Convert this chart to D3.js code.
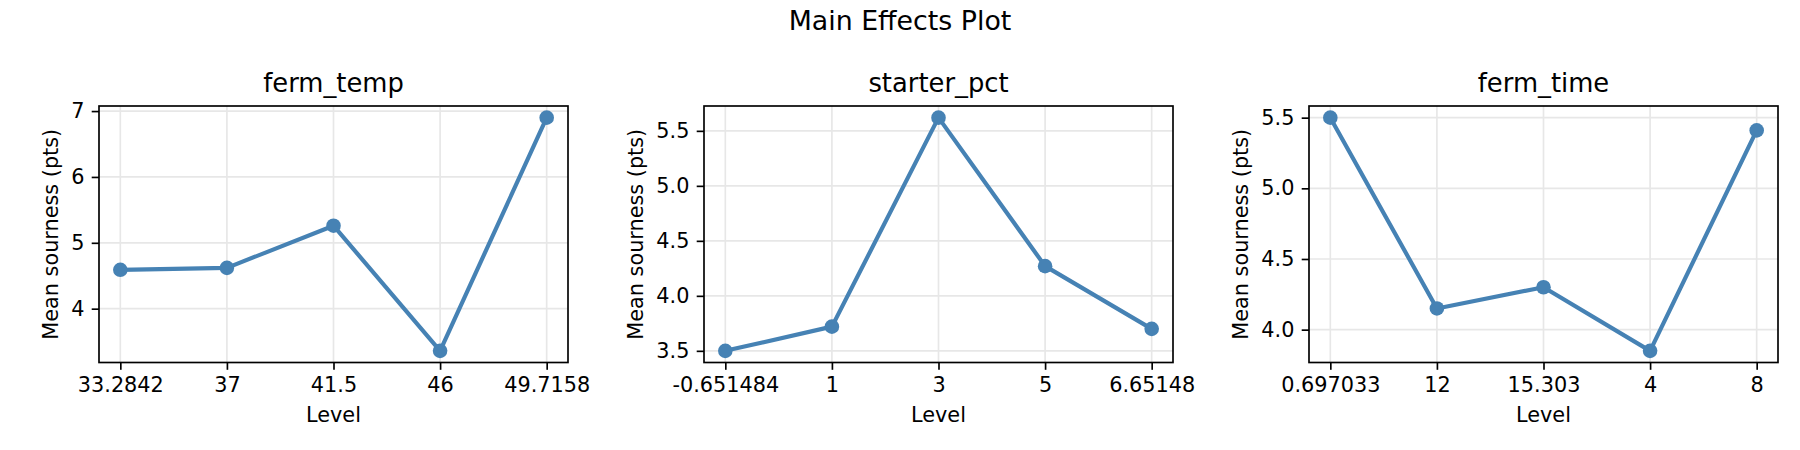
<!DOCTYPE html>
<html>
<head>
<meta charset="utf-8">
<script src="https://cdn.jsdelivr.net/npm/d3@7"></script>
<style>
  body { margin: 0; background: #fff; }
  text { font-family: "DejaVu Sans", sans-serif; fill: #000; }
</style>
</head>
<body>
<div id="chart"></div>
<script>
// donnees
const factors = ["ferm_temp", "starter_pct", "ferm_time"];

const fermTempLevels = ["33.2842", "37", "41.5", "46", "49.7158"];
const fermTempMeans = [4.59, 4.62, 5.26, 3.36, 6.90];

const starterLevels = ["-0.651484", "1", "3", "5", "6.65148"];
const starterMeans = [3.50, 3.72, 5.62, 4.27, 3.70];

const fermTimeLevels = ["0.697033", "12", "15.303", "4", "8"];
const fermTimeMeans = [5.50, 4.15, 4.30, 3.85, 5.41];

const fermTempTicks = [4, 5, 6, 7];
const starterTicks = [3.5, 4.0, 4.5, 5.0, 5.5];
const fermTimeTicks = [4.0, 4.5, 5.0, 5.5];

const panels = [
  { name: factors[0], levels: fermTempLevels, means: fermTempMeans, ticks: fermTempTicks, fmt: d3.format("d") },
  { name: factors[1], levels: starterLevels, means: starterMeans, ticks: starterTicks, fmt: d3.format(".1f") },
  { name: factors[2], levels: fermTimeLevels, means: fermTimeMeans, ticks: fermTimeTicks, fmt: d3.format(".1f") }
];

// mise en page (dpi 150)
const W = 1800, H = 450;
const panelLeft = [99, 704, 1309];
const panelW = 469;
const axTop = 106, axBottom = 362.5;
const fs = 20.8;
const tickLen = 7.3, tickPad = 7.3;
const color = "#4682b4";
const gridColor = "#e7e7e7";

const svg = d3.select("#chart").append("svg")
  .attr("width", W).attr("height", H)
  .attr("viewBox", `0 0 ${W} ${H}`);

svg.append("rect").attr("width", W).attr("height", H).attr("fill", "#fff");

// titre general
svg.append("text")
  .attr("x", W / 2).attr("y", 30)
  .attr("text-anchor", "middle")
  .style("font-size", "26.8px")
  .text("Main Effects Plot");

panels.forEach((p, k) => {
  const left = panelLeft[k];
  const right = left + panelW;
  const n = p.levels.length;

  const x = d3.scaleLinear()
    .domain([-0.05 * (n - 1), (n - 1) * 1.05])
    .range([left, right]);

  const lo = d3.min(p.means), hi = d3.max(p.means);
  const m = (hi - lo) * 0.05;
  const y = d3.scaleLinear()
    .domain([lo - m, hi + m])
    .range([axBottom, axTop]);

  const g = svg.append("g");

  // grille
  g.append("g").selectAll("line").data(d3.range(n)).enter().append("line")
    .attr("x1", d => x(d)).attr("x2", d => x(d))
    .attr("y1", axTop).attr("y2", axBottom)
    .attr("stroke", gridColor).attr("stroke-width", 1.67);
  g.append("g").selectAll("line").data(p.ticks).enter().append("line")
    .attr("x1", left).attr("x2", right)
    .attr("y1", d => y(d)).attr("y2", d => y(d))
    .attr("stroke", gridColor).attr("stroke-width", 1.67);

  // ligne + points
  const pts = p.means.map((v, i) => [i, v]);
  g.append("path")
    .datum(pts)
    .attr("fill", "none")
    .attr("stroke", color)
    .attr("stroke-width", 4.17)
    .attr("stroke-linejoin", "round")
    .attr("d", d3.line().x(d => x(d[0])).y(d => y(d[1])));
  g.selectAll("circle").data(pts).enter().append("circle")
    .attr("cx", d => x(d[0])).attr("cy", d => y(d[1]))
    .attr("r", 7.3)
    .attr("fill", color);

  // axes
  const xAxis = g.append("g")
    .attr("transform", `translate(0,${axBottom})`)
    .call(d3.axisBottom(x).tickValues(d3.range(n))
      .tickFormat(i => p.levels[i])
      .tickSize(tickLen).tickPadding(tickPad));
  const yAxis = g.append("g")
    .attr("transform", `translate(${left},0)`)
    .call(d3.axisLeft(y).tickValues(p.ticks)
      .tickFormat(p.fmt)
      .tickSize(tickLen).tickPadding(tickPad));

  [xAxis, yAxis].forEach(a => {
    a.select(".domain").remove();
    a.selectAll("line").attr("stroke", "#000").attr("stroke-width", 1.67);
    a.selectAll("text").style("font-size", fs + "px").attr("fill", "#000")
      .style("font-family", "'DejaVu Sans', sans-serif");
  });

  // cadre
  g.append("rect")
    .attr("x", left).attr("y", axTop)
    .attr("width", panelW).attr("height", axBottom - axTop)
    .attr("fill", "none").attr("stroke", "#000").attr("stroke-width", 1.67);

  // titres
  g.append("text")
    .attr("x", (left + right) / 2).attr("y", 92)
    .attr("text-anchor", "middle")
    .style("font-size", "25.8px")
    .text(p.name);

  g.append("text")
    .attr("x", (left + right) / 2).attr("y", 422)
    .attr("text-anchor", "middle")
    .style("font-size", fs + "px")
    .text("Level");

  let maxW = 0;
  yAxis.selectAll("text").each(function () { maxW = Math.max(maxW, this.getBBox().width); });
  const lx = left - tickLen - tickPad - maxW - 8.3 - 5;
  g.append("text")
    .attr("transform", `translate(${lx},${(axTop + axBottom) / 2}) rotate(-90)`)
    .attr("text-anchor", "middle")
    .style("font-size", fs + "px")
    .text("Mean sourness (pts)");
});
</script>
</body>
</html>
